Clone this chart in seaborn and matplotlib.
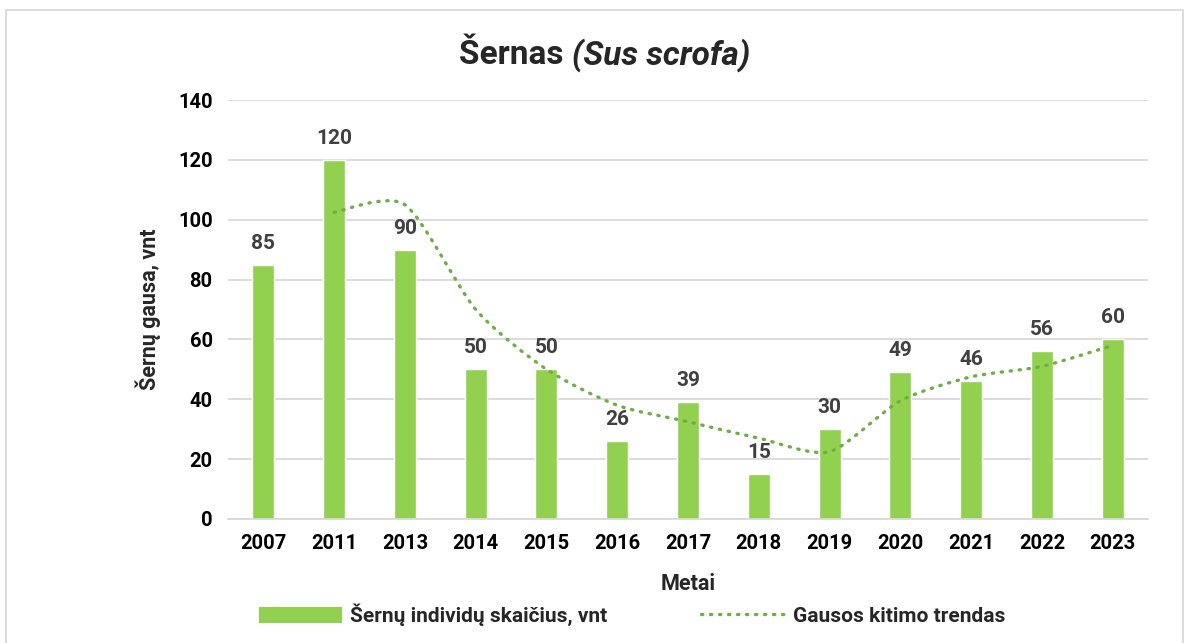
import numpy as np
import pandas as pd
import matplotlib
matplotlib.use("Agg")
import matplotlib.pyplot as plt
import seaborn as sns
from matplotlib.path import Path
from matplotlib.patches import PathPatch, Rectangle
from matplotlib.lines import Line2D
from matplotlib.patches import Patch

# Duomenys
metai = ["2007", "2011", "2013", "2014", "2015", "2016", "2017",
         "2018", "2019", "2020", "2021", "2022", "2023"]
skaicius = [85, 120, 90, 50, 50, 26, 39, 15, 30, 49, 46, 56, 60]
# trendo linija (nuo 2011)
trendas = [102.5, 105, 70, 50, 38, 32.5, 27, 22.5, 39.5, 47.5, 51, 58]

sns.set_theme(style="white")
plt.rcParams["font.family"] = ["Roboto", "DejaVu Sans"]

juosta = "#92D050"
linija = "#70AD47"

df = pd.DataFrame({"metai": metai, "skaicius": skaicius})

fig = plt.figure(figsize=(11.93, 6.43), dpi=100)
ax = fig.add_axes([228 / 1193, 1 - 519 / 643, 920 / 1193, 419 / 643])

sns.barplot(data=df, x="metai", y="skaicius", color=juosta, width=0.31,
            saturation=1, ax=ax, zorder=2)

# glotni trendo kreive (Catmull-Rom -> Bezier)
tx = np.arange(1, len(metai))
ty = np.array(trendas)
pts = np.column_stack([tx, ty])
verts = [pts[0]]
codes = [Path.MOVETO]
k = 8
for i in range(len(pts) - 1):
    p0 = pts[i - 1] if i > 0 else pts[i]
    p1 = pts[i]
    p2 = pts[i + 1]
    p3 = pts[i + 2] if i + 2 < len(pts) else pts[i + 1]
    c1 = p1 + (p2 - p0) / k
    c2 = p2 - (p3 - p1) / k
    verts += [c1, c2, p2]
    codes += [Path.CURVE4] * 3
ax.add_patch(PathPatch(Path(verts, codes), fill=False, edgecolor=linija,
                       lw=2.4, linestyle=(0, (0.4, 2.3)), capstyle="round",
                       zorder=3))

for i, v in enumerate(skaicius):
    ax.text(i, v + 4, str(v), ha="center", va="bottom", fontsize=15,
            fontweight="bold", color="#404040", zorder=4)

ax.set_ylim(0, 140)
ax.set_xlim(-0.5, len(metai) - 0.5)
ax.set_yticks(range(0, 141, 20))
ax.yaxis.grid(True, color="#D9D9D9", lw=1.3)
ax.set_axisbelow(True)
for s in ["top", "right", "left"]:
    ax.spines[s].set_visible(False)
ax.spines["bottom"].set_color("#D9D9D9")
ax.spines["bottom"].set_linewidth(1.3)
ax.tick_params(axis="both", length=0, labelsize=14.5, colors="black", pad=11)
for t in ax.get_xticklabels() + ax.get_yticklabels():
    t.set_fontweight("bold")
ax.set_ylabel("Šernų gausa, vnt", fontsize=15.5, fontweight="bold", labelpad=12)
ax.set_xlabel("Metai", fontsize=15.5, fontweight="bold", labelpad=14)

xs = 572 / 1193
fig.text(xs, 1 - 55 / 643, "Šernas ", ha="right", va="center",
         fontsize=24, fontweight="bold")
fig.text(xs, 1 - 55 / 643, "(Sus scrofa)", ha="left", va="center",
         fontsize=24, fontweight="bold", style="italic")

# remelis
fig.patches.append(Rectangle((6 / 1193, -0.01), 1177 / 1193, 1 - 10 / 643 + 0.01,
                             transform=fig.transFigure, fill=False,
                             edgecolor="#D9D9D9", lw=1.3))

rankenos = [Patch(facecolor=juosta, edgecolor="none"),
            Line2D([0], [0], color=linija, lw=2.4, linestyle=(0, (0.4, 2.3)),
                   dash_capstyle="round")]
fig.legend(rankenos, ["Šernų individų skaičius, vnt", "Gausos kitimo trendas"],
           loc="center", bbox_to_anchor=(632 / 1193, 1 - 615 / 643), ncol=2,
           frameon=False, prop={"size": 15, "weight": "bold"},
           handlelength=4.0, handleheight=0.85, columnspacing=4.5,
           handletextpad=0.4)

fig.savefig("out.png", dpi=100)
